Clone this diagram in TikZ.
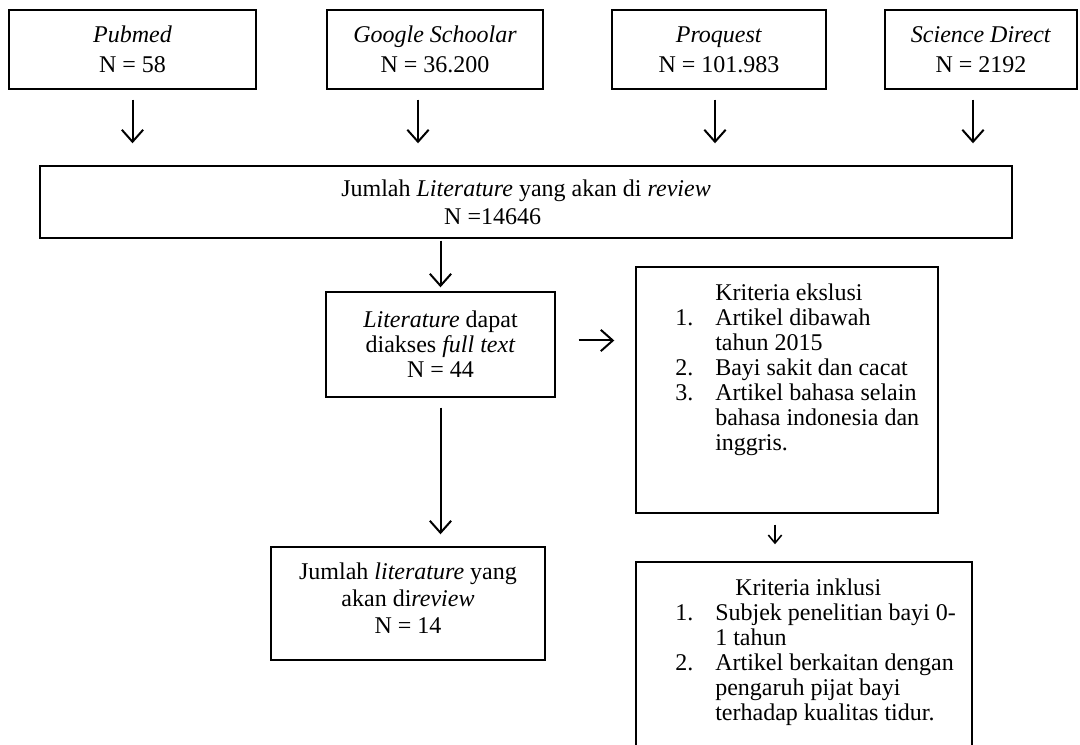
\documentclass[tikz,border=0pt]{standalone}
\usepackage{fontspec}
\setmainfont{Liberation Serif}
\usetikzlibrary{arrows.meta}

\begin{document}
\begin{tikzpicture}[x=0.75pt,y=0.75pt,yscale=-1,xscale=1,
  box/.style={draw, line width=1.1pt, inner sep=0pt, align=center, font=\fontsize{18}{22.5}\selectfont},
  arr/.style={line width=1.5pt, -{Straight Barb[length=9pt,width=16pt,line width=1.5pt]}},
  smallarr/.style={line width=1.2pt, -{Straight Barb[length=6pt,width=10pt,line width=1.2pt]}},
  txt/.style={inner sep=0pt, align=center, font=\fontsize{18}{18.75}\selectfont}]
%set diagram size
\path[use as bounding box] (0,0) rectangle (1080,744);
\clip (0,0) rectangle (1080,744);

%Shape: Rectangle
\node[box, minimum width=185.25pt, minimum height=59.25pt] (pubmed) at (132.5,49.5) {\textit{Pubmed}\\N = 58};
%Shape: Rectangle
\node[box, minimum width=162pt, minimum height=59.25pt] (google) at (435,49.5) {\textit{Google Schoolar}\\N = 36.200};
%Shape: Rectangle
\node[box, minimum width=160.5pt, minimum height=59.25pt] (proquest) at (719,49.5) {\textit{Proquest}\\N = 101.983};
%Shape: Rectangle
\node[box, minimum width=144pt, minimum height=59.25pt] (science) at (981,49.5) {\textit{Science Direct}\\N = 2192};

%Shape: Rectangle
\node[box, minimum width=729pt, minimum height=54pt, font=\fontsize{18}{21}\selectfont] (jumlah) at (526,202) {Jumlah \textit{Literature} yang akan di \textit{review}\\N =14646\hspace*{50pt}};

%Shape: Rectangle
\node[box, minimum width=171.75pt, minimum height=78.75pt, font=\fontsize{18}{18.75}\selectfont] (akses) at (440.5,344.5) {\textit{Literature} dapat\\diakses \textit{full text}\\N = 44};

%Shape: Rectangle
\node[box, minimum width=226.5pt, minimum height=184.5pt] (eksklusi) at (787,390) {};
% Text Node
\node[txt, anchor=base west] (eksText) at (675,300) {\begin{tabular}[t]{@{}p{30pt}@{}l@{}}
 & Kriteria ekslusi\\
1. & Artikel dibawah\\
 & tahun 2015\\
2. & Bayi sakit dan cacat\\
3. & Artikel bahasa selain\\
 & bahasa indonesia dan\\
 & inggris.
\end{tabular}};

%Shape: Rectangle
\node[box, minimum width=252pt, minimum height=171pt] (inklusi) at (804,676) {};
% Text Node
\node[txt, anchor=base west] (inkText) at (675,595) {\begin{tabular}[t]{@{}p{30pt}@{}l@{}}
 & \hspace*{15pt}Kriteria inklusi\\
1. & Subjek penelitian bayi 0-\\
 & 1 tahun\\
2. & Artikel berkaitan dengan\\
 & pengaruh pijat bayi\\
 & terhadap kualitas tidur.
\end{tabular}};

%Shape: Rectangle
\node[box, minimum width=205.5pt, minimum height=84.75pt] (hasil) at (408,603.5) {};
% Text Node
\node[txt, font=\fontsize{18}{20.25}\selectfont] (hasilText) at (408,598) {Jumlah \textit{literature} yang\\akan di\textit{review}\\N = 14};

%Straight Lines
\draw[arr, shorten <=7.5pt, shorten >=16.5pt] (pubmed.south) -- (pubmed.south |- jumlah.north);
\draw[arr, shorten <=7.5pt, shorten >=16.5pt] ([xshift=-12.75pt]google.south) -- ([xshift=-12.75pt]google.south |- jumlah.north);
\draw[arr, shorten <=7.5pt, shorten >=16.5pt] ([xshift=-3pt]proquest.south) -- ([xshift=-3pt]proquest.south |- jumlah.north);
\draw[arr, shorten <=7.5pt, shorten >=16.5pt] ([xshift=-6pt]science.south) -- ([xshift=-6pt]science.south |- jumlah.north);
%Straight Lines
\draw[arr, shorten <=1.5pt, shorten >=3pt] (jumlah.south -| akses.north) -- (akses.north);
\draw[arr, shorten <=17.25pt, shorten >=15.75pt] (akses.2) -- (akses.2 -| eksklusi.west);
\draw[arr, shorten <=7.5pt, shorten >=9pt] (akses.south) -- (akses.south |- hasil.north);
\draw[smallarr, shorten <=8.25pt, shorten >=12.75pt] ([xshift=-9pt]eksklusi.south) -- ([xshift=-9pt]eksklusi.south |- inklusi.north);

\end{tikzpicture}
\end{document}
